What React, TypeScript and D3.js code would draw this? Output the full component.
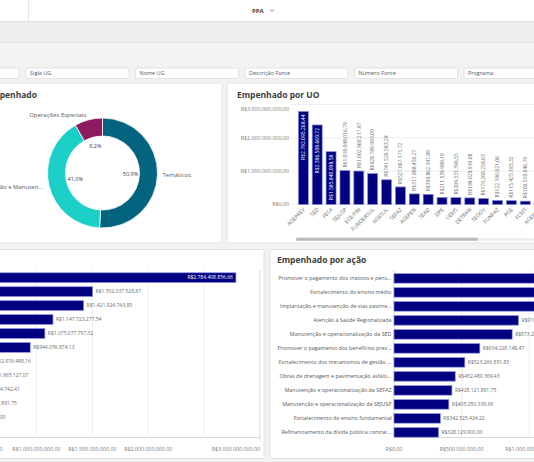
import React from 'react';
import * as d3 from 'd3';

const W = 534, H = 462;
const FONT = "'Open Sans', 'Noto Sans', sans-serif";

const filterLabels = ['', 'Sigla UG', 'Nome UG', 'Descrição Fonte', 'Número Fonte', 'Programa'];

const donutLabels = ['Temáticos', 'Gestão e Manutenção', 'Operações Especiais'];
const donutValues = [50.9, 41.0, 8.2];
const donutColors = ['#04637e', '#1ccfc9', '#8c1b5f'];

const uoCategories = ['AGEPREV', 'SED', 'FESA', 'SEJUSP', 'EGE/FIN', 'FUNDERSUL', 'AGESUL', 'SEFAZ', 'AGEPEN', 'SEAD', 'DPE', 'UEMS', 'DETRAN', 'SEGOV', 'FUNFAZ', 'PGE', 'FCMS', 'AGEHAB'];
const uoValues = [2792095268.44, 2386508669.72, 1585840098.58, 1018048016.79, 1002960217.97, 928789993.09, 741526583.28, 527067171.72, 317898450.27, 304862347.89, 211538989.10, 209331396.55, 198028910.08, 179260258.03, 122196821.06, 115425183.32, 100510046.79, 60000000.0];
const uoTicks = [0, 1e9, 2e9, 3e9];

const progCategories = ['P1', 'P2', 'P3', 'P4', 'P5', 'P6', 'P7', 'P8', 'P9', 'P10', 'P11'];
const progValues = [2784408856.66, 1502037528.87, 1421924743.89, 1147723277.54, 1075077797.32, 944056874.13, 552976488.16, 531965127.07, 454304742.41, 428121891.75, 328129900.0];
const progTicks = [0, 5e8, 1e9, 1.5e9, 2e9, 2.5e9, 3e9];

const acaoCategories = [
  'Promover o pagamento dos inativos e pens...',
  'Fortalecimento do ensino médio',
  'Implantação e manutenção de vias pavime...',
  'Atenção à Saúde Regionalizada',
  'Manutenção e operacionalização da SED',
  'Promover o pagamento dos benefícios prev...',
  'Fortalecimento dos mecanismos de gestão ...',
  'Obras de drenagem e pavimentação asfálti...',
  'Manutenção e operacionalização da SEFAZ',
  'Manutenção e operacionalização da SEJUSP',
  'Fortalecimento do ensino fundamental',
  'Refinanciamento da dívida pública contrat...',
];
const acaoValues = [2350000000, 1480000000, 1310000000, 919525386.12, 873204517.16, 634228148.47, 523266891.83, 452489369.43, 428121891.75, 405050339.69, 342525424.22, 328129900.0];
const acaoTicks = [0, 5e8, 1e9, 1.5e9];

const loc = d3.formatLocale({ decimal: ',', thousands: '.', grouping: [3], currency: ['R$', ''] });
const fmt = loc.format('$,.2f');

const BAR = '#000080';
const BAR_STROKE = '#8c8ce0';
const TXT = '#595959';
const GRID = '#e8e8e8';

function Panel({ x, y, w, h }: any) {
  return <rect x={x} y={y} width={w} height={h} fill="#fff" stroke="#e2e2e2" strokeWidth={1} rx={1} />;
}

function Donut() {
  const cx = 102.5, cy = 173;
  const pie = d3.pie<number>().sort(null).value((d) => d)(donutValues);
  const arc = d3.arc<any>().innerRadius(37).outerRadius(55);
  const lab = d3.arc<any>().innerRadius(28).outerRadius(28);
  const out = d3.arc<any>().innerRadius(60).outerRadius(60);
  return (
    <g>
      <text x={37} y={98} textAnchor="end" fontSize={8.5} fontWeight="bold" fill="#404040">Empenhado</text>
      <g transform={`translate(${cx},${cy})`}>
        {pie.map((p, i) => (
          <path key={i} d={arc(p) as string} fill={donutColors[i]} stroke="#fff" strokeWidth={0.8} />
        ))}
        {pie.map((p, i) => {
          const [lx, ly] = lab.centroid(p);
          return (
            <text key={'p' + i} x={lx} y={ly + 2} textAnchor="middle" fontSize={5.5} fill="#404040">
              {loc.format('.1f')(donutValues[i]) + '%'}
            </text>
          );
        })}
        {pie.map((p, i) => {
          const [ox, oy] = out.centroid(p);
          const anchor = ox > 5 ? 'start' : 'end';
          const label = donutLabels[i] === 'Gestão e Manutenção' ? 'Gestão e Manuten...' : donutLabels[i];
          return (
            <text key={'o' + i} x={ox + (ox > 5 ? 0 : -1)} y={oy + 2} textAnchor={anchor} fontSize={6} fill={TXT}>
              {label}
            </text>
          );
        })}
      </g>
    </g>
  );
}

function UOChart() {
  const y = d3.scaleLinear().domain([0, 3e9]).range([204.5, 104.5]);
  const step = 13.87;
  const x = d3.scaleBand().domain(uoCategories).range([296.4, 296.4 + step * uoCategories.length]).paddingInner(0.28).paddingOuter(0.14);
  const bw = x.bandwidth();
  return (
    <g>
      <text x={237} y={98} fontSize={8.5} fontWeight="bold" fill="#404040">Empenhado por UO</text>
      {uoTicks.map((t) => (
        <g key={t}>
          <line x1={291} x2={W} y1={y(t)} y2={y(t)} stroke={GRID} strokeWidth={0.8} />
          <text x={289} y={Math.max(y(t), 109) + 1.8} textAnchor="end" fontSize={5.3} fill="#7a7a7a">{fmt(t)}</text>
        </g>
      ))}
      {uoCategories.map((c, i) => {
        const v = uoValues[i];
        const x0 = x(c) as number;
        const top = y(v);
        const h = y(0) - top;
        const cx = x0 + bw / 2;
        const label = fmt(v);
        const inside = h > 48;
        return (
          <g key={c}>
            <rect x={x0} y={top} width={bw} height={h} fill={BAR} stroke={BAR_STROKE} strokeWidth={0.7} />
            {inside ? (
              <text transform={`translate(${cx + 1.8},${top + 3}) rotate(-90)`} textAnchor="end" fontSize={5} fill="#fff">{label}</text>
            ) : (
              <text transform={`translate(${cx + 1.8},${top - 3}) rotate(-90)`} textAnchor="start" fontSize={5} fill="#6b6b6b">{label}</text>
            )}
            <text transform={`translate(${cx + 2},${210}) rotate(-45)`} textAnchor="end" fontSize={5.3} fill="#6b6b6b">{c}</text>
          </g>
        );
      })}
      <rect x={296} y={237.8} width={W - 296} height={3} rx={1.5} fill="#eeeeee" />
      <rect x={296} y={237.8} width={182} height={3} rx={1.5} fill="#b9b9b9" />
    </g>
  );
}

function ProgChart() {
  const x = d3.scaleLinear().domain([0, 3e9]).range([-75.3, 260]);
  const y = d3.scaleBand().domain(progCategories).range([270.7, 270.7 + 13.95 * progCategories.length]).paddingInner(0.3).paddingOuter(0.15);
  const bh = y.bandwidth();
  const last = progTicks[progTicks.length - 1];
  const lw = 47;
  const lastStart = x(last) - lw;
  return (
    <g>
      {progTicks.map((t) => (
        <line key={t} x1={x(t)} x2={x(t)} y1={270} y2={t === last ? 441 : 437.5} stroke={t === last ? '#d0d0d0' : GRID} strokeWidth={0.8} />
      ))}
      <line x1={-10} x2={260} y1={437.5} y2={437.5} stroke="#d0d0d0" strokeWidth={0.8} />
      {progTicks.map((t) => {
        const isLast = t === last;
        const cx = x(t);
        if (!isLast && cx + lw / 2 > lastStart - 2) return null;
        return (
          <text key={'l' + t} x={isLast ? cx : cx} y={451} textAnchor={isLast ? 'end' : 'middle'} fontSize={5.3} fill="#7a7a7a">{fmt(t)}</text>
        );
      })}
      {progCategories.map((c, i) => {
        const v = progValues[i];
        const y0 = y(c) as number;
        const xe = x(v);
        const inside = xe > 200;
        return (
          <g key={c}>
            <rect x={-20} y={y0} width={xe + 20} height={bh} fill={BAR} stroke={BAR_STROKE} strokeWidth={0.7} />
            {inside ? (
              <text x={xe - 3} y={y0 + bh / 2 + 1.8} textAnchor="end" fontSize={5} fill="#fff">{fmt(v)}</text>
            ) : (
              <text x={xe + 3} y={y0 + bh / 2 + 1.8} fontSize={5} fill="#6b6b6b">{fmt(v)}</text>
            )}
          </g>
        );
      })}
    </g>
  );
}

function AcaoChart() {
  const x = d3.scaleLinear().domain([0, 1e9]).range([394, 529.3]);
  const y = d3.scaleBand().domain(acaoCategories).range([271.4, 271.4 + 14 * acaoCategories.length]).paddingInner(0.32).paddingOuter(0.16);
  const bh = y.bandwidth();
  return (
    <g>
      <text x={277} y={263} fontSize={8.5} fontWeight="bold" fill="#404040">Empenhado por ação</text>
      {acaoTicks.map((t) => (
        <g key={t}>
          <line x1={x(t)} x2={x(t)} y1={270} y2={437.5} stroke={t === 0 ? '#d0d0d0' : GRID} strokeWidth={0.8} />
          <text x={x(t)} y={451} textAnchor="middle" fontSize={5.3} fill="#7a7a7a">{fmt(t)}</text>
        </g>
      ))}
      <line x1={394} x2={W} y1={437.5} y2={437.5} stroke="#d0d0d0" strokeWidth={0.8} />
      {acaoCategories.map((c, i) => {
        const v = acaoValues[i];
        const y0 = y(c) as number;
        const xe = x(v);
        return (
          <g key={c}>
            <text x={391.5} y={y0 + bh / 2 + 1.8} textAnchor="end" fontSize={5.4} fill={TXT}>{c}</text>
            <rect x={x(0)} y={y0} width={xe - x(0)} height={bh} fill={BAR} stroke={BAR_STROKE} strokeWidth={0.7} />
            <text x={xe + 3} y={y0 + bh / 2 + 1.8} fontSize={5} fill="#6b6b6b">{fmt(v)}</text>
          </g>
        );
      })}
    </g>
  );
}

export default function App() {
  const boxX = [-80, 26, 135.5, 245, 354.5, 464];
  return (
    <svg width={W} height={H} style={{ position: 'absolute', left: 0, top: 0, fontFamily: FONT }}>
      <rect x={0} y={0} width={W} height={H} fill="#f2f2f2" />
      <rect x={0} y={0} width={W} height={21} fill="#fff" />
      <line x1={0} x2={W} y1={21.5} y2={21.5} stroke="#e0e0e0" />
      <line x1={28.5} x2={28.5} y1={0} y2={21} stroke="#e6e6e6" />
      <text x={252} y={12.5} fontSize={6} fontWeight="bold" fill="#404040">PPA</text>
      <polyline points="270,9.5 272,11.5 274,9.5" fill="none" stroke="#404040" strokeWidth={0.7} />
      <rect x={0} y={22} width={W} height={19.5} fill="#eeeeee" />
      <line x1={0} x2={W} y1={42} y2={42} stroke="#e2e2e2" />
      {filterLabels.map((l, i) => (
        <g key={i}>
          <rect x={boxX[i]} y={68} width={i === 0 ? 99 : 103} height={10.5} fill="#fff" stroke="#dcdcdc" strokeWidth={0.8} rx={1} />
          <text x={boxX[i] + 4} y={75.3} fontSize={5.5} fill={TXT}>{l}</text>
        </g>
      ))}
      <Panel x={-5} y={83} w={227} h={160} />
      <Panel x={227} y={83} w={320} h={160} />
      <Panel x={-5} y={249.5} w={269} h={209} />
      <Panel x={270} y={249.5} w={280} h={209} />
      <Donut />
      <svg x={227} y={83} width={307} height={160} overflow="hidden">
        <g transform="translate(-227,-83)">
          <UOChart />
        </g>
      </svg>
      <svg x={0} y={249.5} width={264} height={209} overflow="hidden">
        <g transform="translate(0,-249.5)">
          <ProgChart />
        </g>
      </svg>
      <svg x={270} y={249.5} width={264} height={209} overflow="hidden">
        <g transform="translate(-270,-249.5)">
          <AcaoChart />
        </g>
      </svg>
    </svg>
  );
}
